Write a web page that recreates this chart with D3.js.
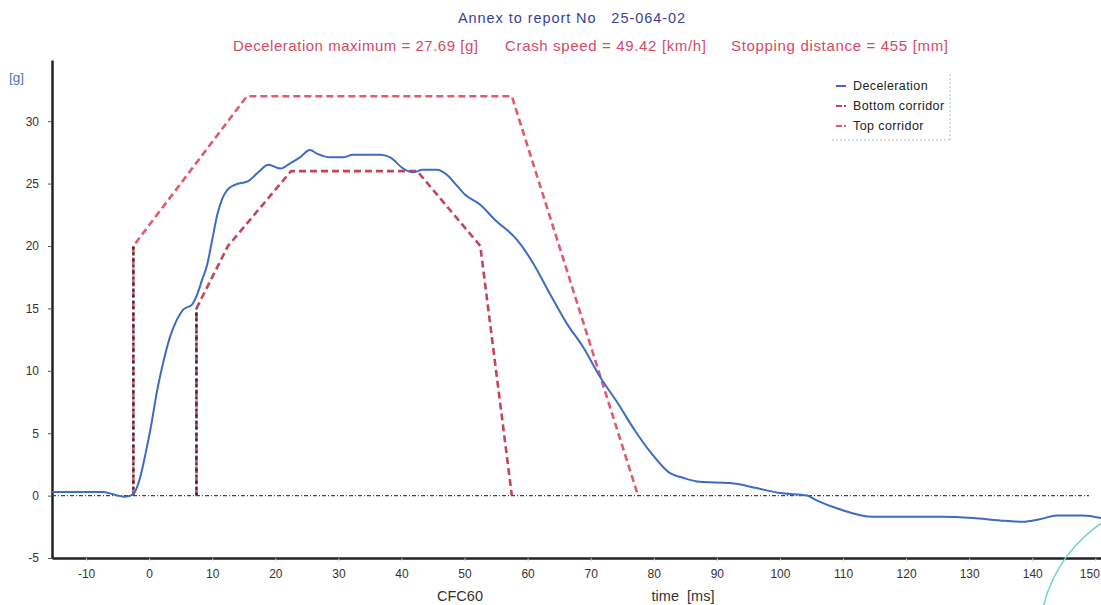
<!DOCTYPE html>
<html>
<head>
<meta charset="utf-8">
<script src="https://cdn.jsdelivr.net/npm/d3@7"></script>
<style>
  body { margin: 0; background: #fff; }
  text { font-family: "Liberation Sans", Arial, sans-serif; white-space: pre; }
</style>
</head>
<body>
<script>
// Deceleration curve: time [ms], deceleration [g]
const decelTime = [-15.4, -7.3, -5.9, -3.8, -2.5, -1.4, -0.6, 0.2, 1.3, 2.2, 3.3, 4.4, 5.4, 6.8, 7.6, 8.4, 9.2, 10.0, 10.8, 11.6, 12.4, 13.6, 15.7, 17.3, 18.9, 20.8, 22.3, 23.9, 25.5, 26.6, 28.7, 30.7, 32.3, 36.6, 38.2, 40.3, 41.8, 43.4, 45.6, 47.2, 48.5, 50.1, 52.5, 54.8, 58.3, 60.9, 63.5, 66.2, 68.8, 71.5, 74.3, 76.9, 79.6, 82.3, 84.8, 87.3, 92.1, 96.3, 100.0, 104.3, 105.9, 109.5, 114.7, 120.1, 125.4, 130.6, 134.9, 138.5, 141.2, 143.9, 148.0, 150.9];
const decelG = [0.29, 0.29, 0.13, -0.1, 0.13, 1.5, 3.3, 5.3, 8.5, 10.6, 12.7, 14.1, 14.9, 15.3, 16.1, 17.3, 18.5, 20.5, 22.5, 23.8, 24.5, 24.9, 25.2, 25.9, 26.5, 26.2, 26.6, 27.1, 27.69, 27.4, 27.1, 27.1, 27.3, 27.3, 27.1, 26.2, 25.9, 26.1, 26.1, 25.7, 25.0, 24.1, 23.3, 22.1, 20.5, 18.6, 16.2, 13.8, 11.9, 9.5, 7.4, 5.3, 3.4, 1.9, 1.4, 1.1, 1.0, 0.6, 0.2, 0.0, -0.4, -1.1, -1.7, -1.7, -1.7, -1.8, -2.0, -2.1, -1.9, -1.6, -1.6, -1.8];

// Corridors (R44 corridor shifted by -2.5 ms)
const bottomTime = [7.5, 7.5, 12.5, 22.5, 42.5, 52.5, 57.5];
const bottomG = [0, 15, 20, 26, 26, 20, 0];
const topTime = [-2.5, -2.5, 15.5, 57.5, 77.5];
const topG = [0, 20, 32, 32, 0];

const xTicks = [-10, 0, 10, 20, 30, 40, 50, 60, 70, 80, 90, 100, 110, 120, 130, 140, 150];
const yTicks = [-5, 0, 5, 10, 15, 20, 25, 30];
const legendNames = ["Deceleration", "Bottom corridor", "Top corridor"];

const width = 1101, height = 605;
const blue = "#3d6cc2", pink = "#e05a72", darkRed = "#c2455e";

let svg = d3.select("body").append("svg")
  .attr("width", width)
  .attr("height", height);

// Scales
let x = d3.scaleLinear().domain([-15.4, 150.9]).range([52, 1101]);
let y = d3.scaleLinear().domain([-5, 34.9]).range([558, 60]);

// Titles
svg.append("text")
  .attr("x", 458).attr("y", 23)
  .attr("textLength", 227)
  .style("font-size", "14.5px")
  .style("fill", "#3b3f9a")
  .text("Annex to report No   25-064-02");

const subtitles = [
  { text: "Deceleration maximum = 27.69 [g]", x: 233, w: 245 },
  { text: "Crash speed = 49.42 [km/h]", x: 505, w: 201 },
  { text: "Stopping distance = 455 [mm]", x: 731, w: 217 }
];
svg.selectAll(".sub").data(subtitles).enter().append("text")
  .attr("class", "sub")
  .attr("x", d => d.x).attr("y", 51)
  .attr("textLength", d => d.w)
  .style("font-size", "15px")
  .style("fill", "#d24a66")
  .text(d => d.text);

// Unit label
svg.append("text")
  .attr("x", 9).attr("y", 82)
  .style("font-size", "13.5px")
  .style("fill", "#4a6fc0")
  .text("[g]");

// Y axis
let yAxis = svg.append("g")
  .attr("transform", `translate(${x.range()[0]},0)`)
  .call(d3.axisLeft(y).tickValues(yTicks).tickFormat(d => String(d))
    .tickSize(4).tickSizeOuter(0).tickPadding(9));
yAxis.select(".domain").attr("stroke", "#222").attr("stroke-width", 2.5);
yAxis.selectAll(".tick line").attr("stroke", "#555");
yAxis.selectAll("text").style("font-size", "12px").style("fill", "#333")
  .style("font-family", "'Liberation Sans', Arial, sans-serif");

// X axis
let xAxis = svg.append("g")
  .attr("transform", `translate(0,${y(-5)})`)
  .call(d3.axisBottom(x).tickValues(xTicks).tickFormat(d => String(d))
    .tickSize(3).tickSizeOuter(0).tickPadding(8));
xAxis.select(".domain").attr("stroke", "#222").attr("stroke-width", 2.5);
xAxis.selectAll(".tick line").attr("stroke", "#bbb");
xAxis.selectAll("text").style("font-size", "12px").style("fill", "#333")
  .style("font-family", "'Liberation Sans', Arial, sans-serif")
  .filter(d => d === 150)
  .attr("text-anchor", "end").attr("dx", 4);

svg.append("text")
  .attr("x", 460).attr("y", 601)
  .attr("text-anchor", "middle")
  .style("font-size", "14.5px").style("fill", "#333")
  .text("CFC60");
svg.append("text")
  .attr("x", 683).attr("y", 601)
  .attr("text-anchor", "middle")
  .style("font-size", "14.5px").style("fill", "#333")
  .text("time  [ms]");

// Zero line
svg.append("line")
  .attr("x1", x(-15.4)).attr("x2", x(149))
  .attr("y1", y(0)).attr("y2", y(0))
  .attr("stroke", "#444")
  .attr("stroke-width", 1.2)
  .attr("stroke-dasharray", "4,2,1,2");

let line = d3.line().x(d => x(d[0])).y(d => y(d[1]));

// Corridors
const bottomPts = d3.zip(bottomTime, bottomG);
const topPts = d3.zip(topTime, topG);

svg.append("path")
  .datum(topPts)
  .attr("d", line)
  .attr("fill", "none")
  .attr("stroke", pink)
  .attr("stroke-width", 2.6)
  .attr("stroke-dasharray", "7,4");

svg.append("path")
  .datum(bottomPts)
  .attr("d", line)
  .attr("fill", "none")
  .attr("stroke", darkRed)
  .attr("stroke-width", 2.6)
  .attr("stroke-dasharray", "7,4");

// Dark verticals at the corridor starts
[bottomPts.slice(0, 2), topPts.slice(0, 2)].forEach(seg => {
  svg.append("path")
    .datum(seg)
    .attr("d", line)
    .attr("fill", "none")
    .attr("stroke", "#3a2a2e")
    .attr("stroke-width", 2.4)
    .attr("stroke-dasharray", "3,3");
});

// Deceleration curve
svg.append("path")
  .datum(d3.zip(decelTime, decelG))
  .attr("d", line.curve(d3.curveMonotoneX))
  .attr("fill", "none")
  .attr("stroke", blue)
  .attr("stroke-width", 2);

// Legend
let legend = svg.append("g").attr("transform", "translate(836,86)");
const legendColors = [blue, darkRed, pink];
legendNames.forEach((name, i) => {
  let g = legend.append("g").attr("transform", `translate(0,${i * 20})`);
  g.append("line")
    .attr("x1", 0).attr("x2", 10)
    .attr("stroke", legendColors[i])
    .attr("stroke-width", 2)
    .attr("stroke-dasharray", i === 0 ? null : "6,2");
  g.append("text")
    .attr("x", 17).attr("y", 4)
    .style("font-size", "12.5px")
    .style("letter-spacing", "0.4px")
    .style("fill", "#222")
    .text(name);
});
legend.append("path")
  .attr("d", "M-4,54 H114 M114,-12 V54")
  .attr("fill", "none")
  .attr("stroke", "#bbb")
  .attr("stroke-dasharray", "2,2");

// Stamp edge in the corner
svg.append("path")
  .attr("d", d3.arc()({ innerRadius: 140, outerRadius: 141.5, startAngle: -Math.PI * 0.62, endAngle: -Math.PI * 0.15 }))
  .attr("transform", "translate(1180,640)")
  .attr("fill", "#6fd8c0");
</script>
</body>
</html>
